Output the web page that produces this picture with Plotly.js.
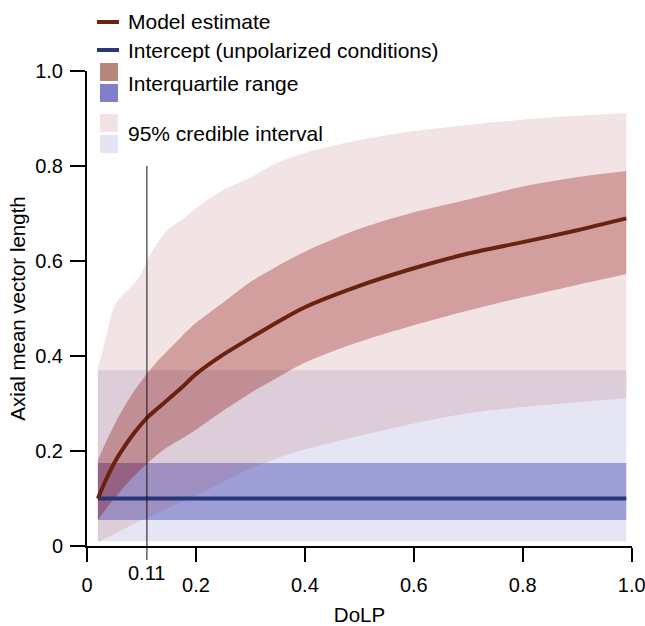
<!DOCTYPE html>
<html>
<head>
<meta charset="utf-8">
<script src="https://cdn.plot.ly/plotly-3.0.1.min.js"></script>
<style>html,body{margin:0;padding:0;background:#fff;}#chart{width:645px;height:626px;}</style>
</head>
<body>
<div id="chart"></div>
<script>
// ---- data ----
const dolp      = [0.02, 0.035, 0.05, 0.065, 0.08, 0.095, 0.11, 0.13, 0.15, 0.175, 0.2, 0.25, 0.3, 0.35, 0.4, 0.5, 0.6, 0.7, 0.8, 0.9, 0.99];
const modelEst  = [0.10, 0.14, 0.175, 0.203, 0.228, 0.25, 0.27, 0.29, 0.31, 0.335, 0.362, 0.403, 0.438, 0.472, 0.503, 0.548, 0.585, 0.616, 0.64, 0.665, 0.69];
const iqrUpper  = [0.18, 0.22, 0.255, 0.287, 0.315, 0.34, 0.363, 0.39, 0.414, 0.443, 0.47, 0.513, 0.556, 0.59, 0.62, 0.668, 0.703, 0.73, 0.757, 0.777, 0.79];
const iqrLower  = [0.055, 0.078, 0.10, 0.12, 0.14, 0.157, 0.173, 0.193, 0.21, 0.227, 0.245, 0.285, 0.322, 0.355, 0.386, 0.43, 0.465, 0.496, 0.524, 0.55, 0.573];
const ci95Upper = [0.375, 0.44, 0.505, 0.528, 0.545, 0.565, 0.60, 0.64, 0.668, 0.688, 0.712, 0.75, 0.776, 0.808, 0.828, 0.855, 0.874, 0.887, 0.898, 0.906, 0.912];
const ci95Lower = [0.008, 0.017, 0.025, 0.034, 0.043, 0.052, 0.06, 0.07, 0.08, 0.093, 0.106, 0.135, 0.163, 0.185, 0.203, 0.232, 0.258, 0.28, 0.293, 0.303, 0.311];

const interceptX     = [0.02, 0.99];
const interceptVal   = [0.10, 0.10];
const interceptIqrLo = [0.055, 0.055];
const interceptIqrHi = [0.175, 0.175];
const intercept95Lo  = [0.01, 0.01];
const intercept95Hi  = [0.37, 0.37];

const markerX      = 0.11;
const markerLabel  = '0.11';
const markerTop    = 0.8;

const xTickVals = [0, 0.2, 0.4, 0.6, 0.8, 1.0];
const xTickText = ['0', '0.2', '0.4', '0.6', '0.8', '1.0'];
const yTickVals = [0, 0.2, 0.4, 0.6, 0.8, 1.0];
const yTickText = ['0', '0.2', '0.4', '0.6', '0.8', '1.0'];

const legendLabels = ['Model estimate', 'Intercept (unpolarized conditions)', 'Interquartile range', '95% credible interval'];

// ---- styling ----
const FONT = 'Liberation Sans, Arial, Helvetica, sans-serif';
const cModel = 'rgb(104,34,14)';
const cIntercept = 'rgb(40,55,120)';
const cBlue95 = 'rgb(229,229,243)';
const cBlueIqr = 'rgb(157,158,214)';
const cPink95 = 'rgba(168,68,75,0.15)';
const cPinkIqr = 'rgba(137,0,0,0.38)';

const W = 645, H = 626, L = 87, R = 13, T = 71, B = 80;
const pw = W - L - R, ph = H - T - B;
const px = v => (v - L) / pw;          // pixel -> paper x
const py = v => (H - B - v) / ph;      // pixel -> paper y

const bandLine = {width: 0, shape: 'spline', smoothing: 0.8};
const traces = [
  {x: interceptX, y: intercept95Lo, mode: 'lines', line: {width: 0}, hoverinfo: 'skip', showlegend: false},
  {x: interceptX, y: intercept95Hi, mode: 'lines', line: {width: 0}, fill: 'tonexty', fillcolor: cBlue95, hoverinfo: 'skip', showlegend: false},
  {x: interceptX, y: interceptIqrLo, mode: 'lines', line: {width: 0}, hoverinfo: 'skip', showlegend: false},
  {x: interceptX, y: interceptIqrHi, mode: 'lines', line: {width: 0}, fill: 'tonexty', fillcolor: cBlueIqr, hoverinfo: 'skip', showlegend: false},
  {x: dolp, y: ci95Lower, mode: 'lines', line: bandLine, hoverinfo: 'skip', showlegend: false},
  {x: dolp, y: iqrLower, mode: 'lines', line: bandLine, fill: 'tonexty', fillcolor: cPink95, hoverinfo: 'skip', showlegend: false},
  {x: dolp, y: iqrUpper, mode: 'lines', line: bandLine, fill: 'tonexty', fillcolor: cPinkIqr, hoverinfo: 'skip', showlegend: false},
  {x: dolp, y: ci95Upper, mode: 'lines', line: bandLine, fill: 'tonexty', fillcolor: cPink95, hoverinfo: 'skip', showlegend: false},
  {x: interceptX, y: interceptVal, mode: 'lines', line: {color: cIntercept, width: 4}, showlegend: false},
  {x: dolp, y: modelEst, mode: 'lines', line: {color: cModel, width: 4, shape: 'spline', smoothing: 0.8}, showlegend: false}
];

const shapes = [
  {type: 'line', xref: 'x', yref: 'paper', x0: markerX, x1: markerX, y0: py(560), y1: markerTop,
   line: {color: '#111', width: 1}, layer: 'above'},
  // legend swatches
  {type: 'line', xref: 'paper', yref: 'paper', x0: px(97), x1: px(119), y0: py(22), y1: py(22), line: {color: cModel, width: 4}},
  {type: 'line', xref: 'paper', yref: 'paper', x0: px(97), x1: px(119), y0: py(50), y1: py(50), line: {color: cIntercept, width: 4}},
  {type: 'rect', xref: 'paper', yref: 'paper', x0: px(100), x1: px(118), y0: py(81), y1: py(63), line: {width: 0}, fillcolor: 'rgb(181,135,123)'},
  {type: 'rect', xref: 'paper', yref: 'paper', x0: px(100), x1: px(118), y0: py(102), y1: py(84), line: {width: 0}, fillcolor: 'rgb(128,128,200)'},
  {type: 'rect', xref: 'paper', yref: 'paper', x0: px(100), x1: px(118), y0: py(132), y1: py(114), line: {width: 0}, fillcolor: 'rgb(242,226,228)'},
  {type: 'rect', xref: 'paper', yref: 'paper', x0: px(100), x1: px(118), y0: py(153), y1: py(135), line: {width: 0}, fillcolor: 'rgb(228,228,242)'}
];

const legendY = [22, 50, 83, 133];
const annotations = legendLabels.map((t, i) => ({
  text: t, xref: 'paper', yref: 'paper', x: px(126), y: py(legendY[i]), xanchor: 'left', yanchor: 'middle',
  showarrow: false, font: {family: FONT, size: 21, color: '#000'}
}));
annotations.push({text: markerLabel, xref: 'x', yref: 'paper', x: markerX, y: py(573), xanchor: 'center', yanchor: 'middle',
  showarrow: false, font: {family: FONT, size: 20, color: '#000'}});

const axisCommon = {
  showgrid: false, zeroline: false, showline: true, linecolor: '#000', linewidth: 2,
  ticks: 'outside', tickcolor: '#000', tickwidth: 2, tickfont: {family: FONT, size: 20, color: '#000'},
  ticklabeloverflow: 'allow', fixedrange: true
};

const layout = {
  width: W, height: H,
  margin: {l: L, r: R, t: T, b: B, pad: 0},
  paper_bgcolor: '#fff', plot_bgcolor: '#fff',
  font: {family: FONT, color: '#000'},
  xaxis: Object.assign({}, axisCommon, {
    range: [0, 1.0005],
    tickvals: xTickVals, ticktext: xTickText, ticklen: 14, ticklabelstandoff: 6,
    title: {text: 'DoLP', font: {family: FONT, size: 20.5, color: '#000'}, standoff: 32}
  }),
  yaxis: Object.assign({}, axisCommon, {
    range: [0, 1.0005],
    tickvals: yTickVals, ticktext: yTickText, ticklen: 15, ticklabelstandoff: 3,
    title: {text: 'Axial mean vector length', font: {family: FONT, size: 20.5, color: '#000'}, standoff: 4}
  }),
  shapes: shapes,
  annotations: annotations,
  showlegend: false
};

Plotly.newPlot('chart', traces, layout, {displayModeBar: false, staticPlot: true});
</script>
</body>
</html>
